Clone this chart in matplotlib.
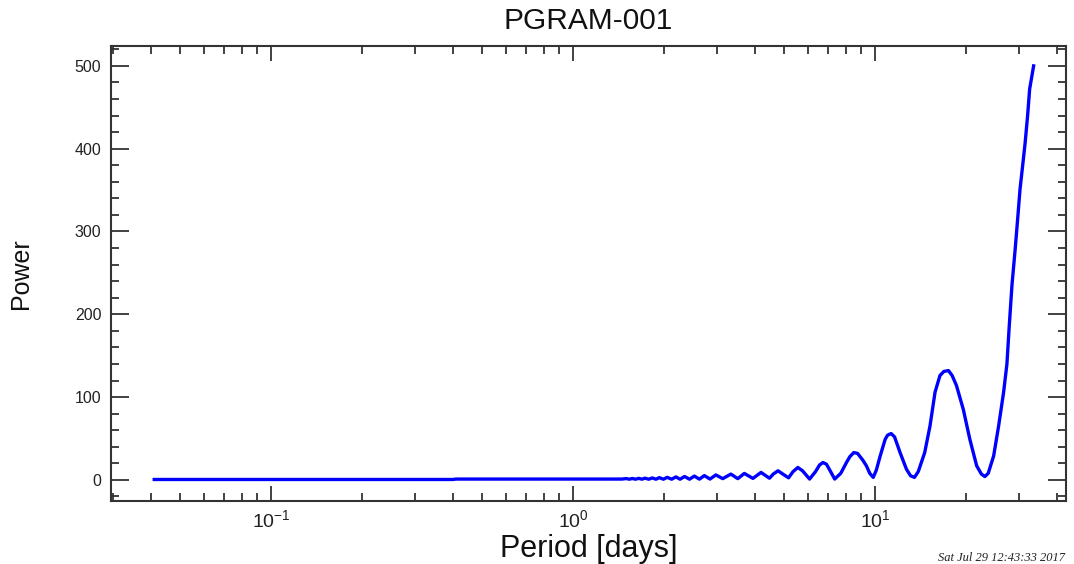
import matplotlib
matplotlib.use("Agg")
import matplotlib.pyplot as plt
from matplotlib.ticker import LogLocator, MultipleLocator, NullFormatter

# hodnoty (perioda ve dnech, výkon)
period = [0.041, 0.40, 0.41, 1.45,
          1.50, 1.535, 1.57, 1.61, 1.65, 1.69, 1.73, 1.78, 1.83, 1.88,
          1.93, 1.99, 2.05, 2.12, 2.19, 2.26, 2.34, 2.43, 2.52, 2.62,
          2.72, 2.84, 2.97, 3.13, 3.33, 3.51, 3.69, 3.94, 4.19, 4.47,
          4.60, 4.77, 4.95, 5.17, 5.35, 5.55, 5.75, 6.07,
          6.35, 6.55, 6.72, 6.90, 7.10, 7.35,
          7.70, 8.04, 8.25, 8.50, 8.75, 9.10, 9.36, 9.60, 9.86,
          10.1, 10.4, 10.8, 11.0, 11.3, 11.6, 12.1, 12.7, 13.1, 13.5,
          13.9, 14.6, 15.2, 15.8, 16.4, 16.9, 17.5, 18.0, 18.6, 19.6,
          20.6, 21.7, 22.5, 23.1, 23.7, 24.7, 25.65, 26.65, 27.33, 27.81,
          28.40, 29.11, 29.72, 30.2, 30.8, 31.4, 32.0, 32.5, 33.5]
power = [0.5, 0.5, 1.0, 1.0,
         1.6, 0.8, 1.7, 0.8, 1.9, 0.8, 2.1, 0.8, 2.4, 0.8,
         2.7, 0.8, 3.1, 0.8, 3.6, 0.8, 4.1, 0.8, 4.6, 0.9,
         5.2, 1.0, 6.0, 1.5, 7.0, 1.5, 7.8, 1.8, 9.0, 2.0,
         7.0, 11.0, 7.0, 2.5, 10.0, 15.0, 11.0, 1.0,
         10.0, 18.0, 21.0, 19.0, 11.0, 1.0,
         8.0, 21.0, 28.0, 33.0, 32.0, 24.0, 17.0, 8.0, 3.0,
         12.0, 29.0, 49.0, 54.0, 56.0, 52.0, 33.0, 13.0, 5.0, 3.0,
         10.0, 33.0, 65.0, 106.0, 126.0, 131.0, 132.0, 126.0, 114.0, 85.0,
         49.0, 17.0, 7.0, 4.0, 8.0, 29.0, 65.0, 106.0, 140.0, 185.0,
         235.0, 279.0, 319.0, 351.0, 379.0, 407.0, 440.0, 472.0, 500.0]

plt.rcParams['font.family'] = ['Liberation Sans', 'DejaVu Sans']

fig = plt.figure(figsize=(10.74, 5.64), dpi=100)
ax = fig.add_axes([0.1034, 0.1117, 0.8892, 0.8067])

ax.plot(period, power, color='#0000ff', linewidth=2.4, solid_joinstyle='round')

ax.set_xscale('log')
ax.set_xlim(0.0295, 42.9)
ax.set_ylim(-25.5, 524)

ax.yaxis.set_major_locator(MultipleLocator(100))
ax.yaxis.set_minor_locator(MultipleLocator(20))
ax.xaxis.set_major_locator(LogLocator(base=10, numticks=10))
ax.xaxis.set_minor_locator(LogLocator(base=10, subs=range(2, 10), numticks=20))
ax.xaxis.set_minor_formatter(NullFormatter())

# ticky dovnitř na všech stranách
ax.tick_params(which='both', direction='in', top=True, right=True,
               colors='#333333', labelcolor='#222222', width=1.3)
ax.tick_params(axis='y', which='major', length=13, pad=7, labelsize=11.5)
ax.tick_params(axis='y', which='minor', length=6)
ax.tick_params(axis='x', which='major', length=11, pad=6, labelsize=14)
ax.tick_params(axis='x', which='minor', length=6)
for s in ax.spines.values():
    s.set_color('#333333')
    s.set_linewidth(1.5)

ax.set_title('PGRAM-001', fontsize=21.5, pad=12, color='#111111')
ax.set_xlabel('Period [days]', fontsize=22, labelpad=2, color='#111111')
ax.set_ylabel('Power', fontsize=18, labelpad=30, color='#111111')

fig.text(0.992, 0.0, 'Sat Jul 29 12:43:33 2017', ha='right', va='bottom',
         fontsize=9, style='italic', family='Liberation Serif', color='#222222')

fig.savefig('out.png', dpi=100)
